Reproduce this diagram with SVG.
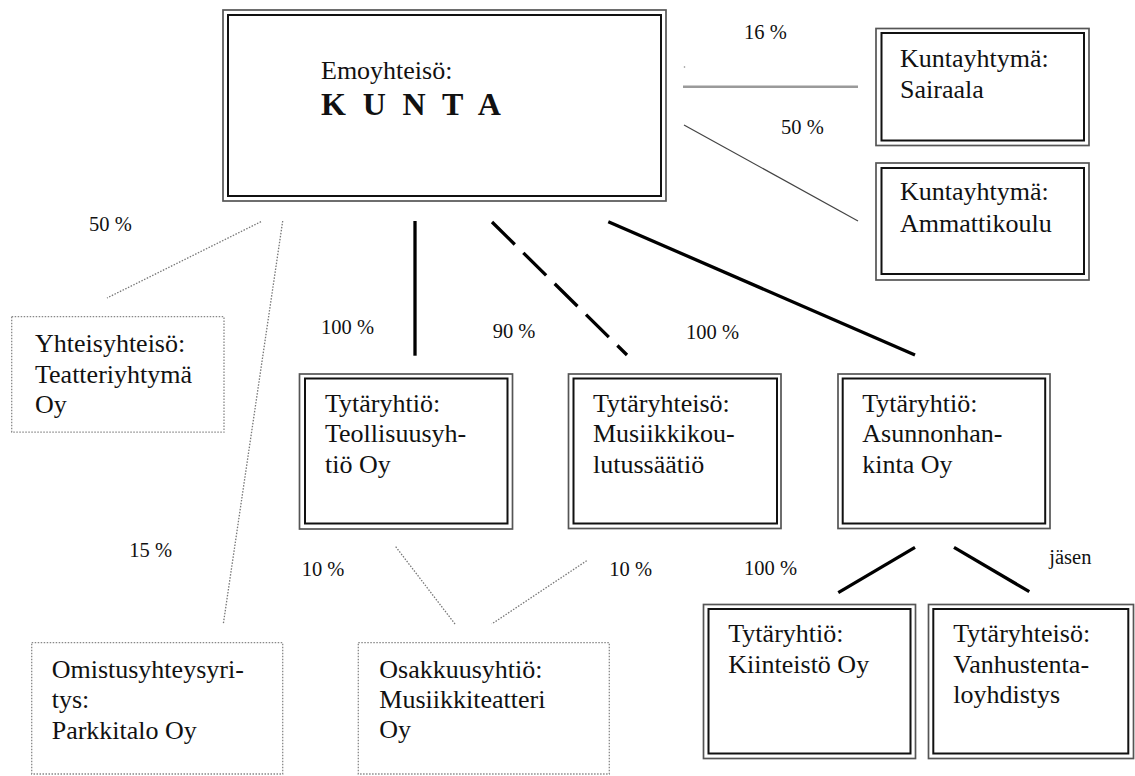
<svg xmlns="http://www.w3.org/2000/svg" width="1135" height="776" viewBox="0 0 1135 776">
<style>
  .o{fill:none;stroke:#555;stroke-width:1.7}
  .i{fill:none;stroke:#111;stroke-width:2}
  .dot{fill:#fff;stroke:#888;stroke-width:1.3;stroke-dasharray:1.5 1.5}
  .t{font-family:"Liberation Serif","Times New Roman",serif;font-size:26px;fill:#111}
  .k{font-family:"Liberation Serif","Times New Roman",serif;font-size:32px;font-weight:bold;letter-spacing:4.4px;fill:#111}
  .l{font-family:"Liberation Serif","Times New Roman",serif;font-size:20.5px;fill:#111}
  .thick{stroke:#000;stroke-width:3.3;fill:none}
  .dl{stroke:#777;stroke-width:1.3;stroke-dasharray:1.5 1.5;fill:none}
</style>
<rect width="1135" height="776" fill="#fff"/>
<g id="connectors">
  <line x1="683" y1="86.7" x2="858" y2="86.7" stroke="#9a9a9a" stroke-width="2.5"/>
  <circle cx="684.5" cy="67" r="0.8" fill="#888"/>
  <line x1="684" y1="125" x2="858" y2="221" stroke="#444" stroke-width="1.2"/>
  <line class="dl" x1="261" y1="221.7" x2="107" y2="298"/>
  <line class="dl" x1="282.7" y1="221" x2="223.3" y2="624"/>
  <line class="thick" x1="415" y1="221" x2="415" y2="355.7"/>
  <line class="thick" x1="492" y1="222" x2="627" y2="355" stroke-dasharray="32 12"/>
  <line class="thick" x1="608.3" y1="221.7" x2="915" y2="355"/>
  <line class="dl" x1="395.7" y1="546.7" x2="455" y2="624"/>
  <line class="dl" x1="586.7" y1="560.7" x2="491.7" y2="624"/>
  <line class="thick" x1="915" y1="547.3" x2="838.3" y2="592.7"/>
  <line class="thick" x1="954" y1="547.3" x2="1029.3" y2="591.7"/>
</g>
<g id="labels">
  <text class="l" x="744" y="39">16 %</text>
  <text class="l" x="781" y="134">50 %</text>
  <text class="l" x="89" y="230.7">50 %</text>
  <text class="l" x="321" y="334">100 %</text>
  <text class="l" x="492.7" y="338.3">90 %</text>
  <text class="l" x="686" y="339.3">100 %</text>
  <text class="l" x="129.3" y="557.3">15 %</text>
  <text class="l" x="301.7" y="576">10 %</text>
  <text class="l" x="609.3" y="576">10 %</text>
  <text class="l" x="744" y="575">100 %</text>
  <text class="l" x="1049.3" y="564">jäsen</text>
</g>
<g id="kunta">
  <rect class="o" x="223" y="10" width="443" height="191"/>
  <rect class="i" x="228" y="15" width="433" height="181"/>
  <text class="t" x="321" y="79">Emoyhteisö:</text>
  <text class="k" x="321" y="115">K U N T A</text>
</g>
<g id="sairaala">
  <rect class="o" x="876" y="28.5" width="213" height="117"/>
  <rect class="i" x="881.5" y="33" width="202.5" height="107.5"/>
  <text class="t" x="900" y="66.7">Kuntayhtymä:</text>
  <text class="t" x="900" y="98.3">Sairaala</text>
</g>
<g id="ammattikoulu">
  <rect class="o" x="876" y="163" width="213" height="117"/>
  <rect class="i" x="881.5" y="168" width="202.5" height="106"/>
  <text class="t" x="900" y="200">Kuntayhtymä:</text>
  <text class="t" x="900" y="231.7">Ammattikoulu</text>
</g>
<g id="teatteriyhtyma">
  <rect class="dot" x="11.7" y="316.7" width="212.3" height="115.5"/>
  <text class="t" x="35" y="351.7">Yhteisyhteisö:</text>
  <text class="t" x="35" y="383">Teatteriyhtymä</text>
  <text class="t" x="35" y="413">Oy</text>
</g>
<g id="teollisuus">
  <rect class="o" x="299.5" y="374" width="213" height="155"/>
  <rect class="i" x="305" y="378.5" width="202.5" height="145"/>
  <text class="t" x="325" y="411.7">Tytäryhtiö:</text>
  <text class="t" x="325" y="441.7">Teollisuusyh-</text>
  <text class="t" x="325" y="472.7">tiö Oy</text>
</g>
<g id="musiikkikoulu">
  <rect class="o" x="568.5" y="374" width="212.5" height="154.5"/>
  <rect class="i" x="573.5" y="378.5" width="203.5" height="145"/>
  <text class="t" x="593" y="411.7">Tytäryhteisö:</text>
  <text class="t" x="593" y="441.7">Musiikkikou-</text>
  <text class="t" x="593" y="472.7">lutussäätiö</text>
</g>
<g id="asunnonhankinta">
  <rect class="o" x="838" y="374" width="212" height="154.5"/>
  <rect class="i" x="842.7" y="378.5" width="202.5" height="145"/>
  <text class="t" x="862.3" y="411.7">Tytäryhtiö:</text>
  <text class="t" x="862.3" y="441.7">Asunnonhan-</text>
  <text class="t" x="862.3" y="472.7">kinta Oy</text>
</g>
<g id="parkkitalo">
  <rect class="dot" x="31.7" y="642.7" width="251" height="131.3"/>
  <text class="t" x="51.7" y="678.3">Omistusyhteysyri-</text>
  <text class="t" x="51.7" y="708">tys:</text>
  <text class="t" x="51.7" y="739.3">Parkkitalo Oy</text>
</g>
<g id="musiikkiteatteri">
  <rect class="dot" x="358.3" y="642.7" width="251" height="131.3"/>
  <text class="t" x="379.3" y="678.3">Osakkuusyhtiö:</text>
  <text class="t" x="379.3" y="708">Musiikkiteatteri</text>
  <text class="t" x="379.3" y="738.3">Oy</text>
</g>
<g id="kiinteisto">
  <rect class="o" x="703.5" y="604.5" width="212" height="154"/>
  <rect class="i" x="708.5" y="609" width="202" height="144.5"/>
  <text class="t" x="728.3" y="641.7">Tytäryhtiö:</text>
  <text class="t" x="728.3" y="673.3">Kiinteistö Oy</text>
</g>
<g id="vanhustentaloyhdistys">
  <rect class="o" x="928.5" y="604.5" width="205" height="154"/>
  <rect class="i" x="933.3" y="609" width="195" height="144.5"/>
  <text class="t" x="953.3" y="641.7">Tytäryhteisö:</text>
  <text class="t" x="953.3" y="673.3">Vanhustenta-</text>
  <text class="t" x="953.3" y="703">loyhdistys</text>
</g>
</svg>
